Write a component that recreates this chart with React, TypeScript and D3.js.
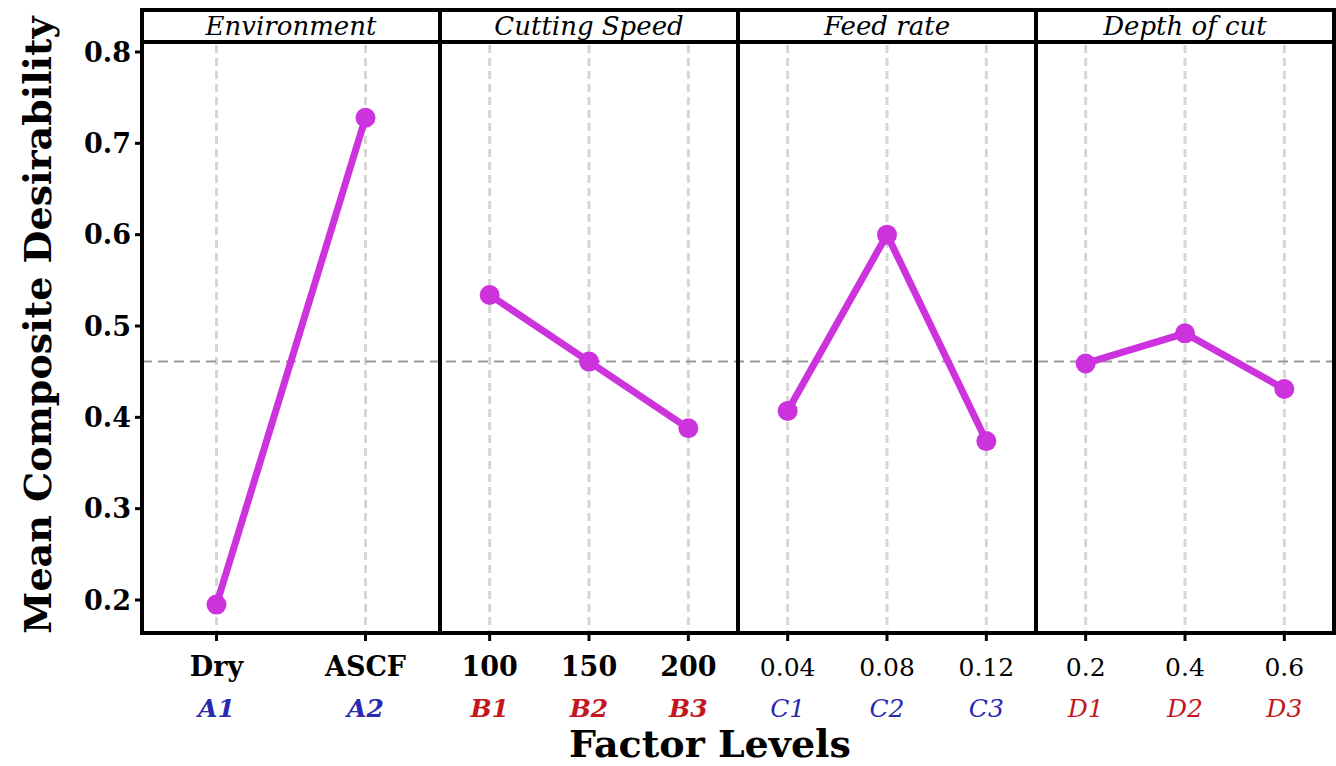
import React, { useEffect } from "react";
import * as d3 from "d3";

// chart values
const factors = ["Environment", "Cutting Speed", "Feed rate", "Depth of cut"];
const envLevels = ["Dry", "ASCF"];
const envCodes = ["A1", "A2"];
const envValues = [0.195, 0.728];
const speedLevels = ["100", "150", "200"];
const speedCodes = ["B1", "B2", "B3"];
const speedValues = [0.534, 0.461, 0.388];
const feedLevels = ["0.04", "0.08", "0.12"];
const feedCodes = ["C1", "C2", "C3"];
const feedValues = [0.407, 0.6, 0.374];
const depthLevels = ["0.2", "0.4", "0.6"];
const depthCodes = ["D1", "D2", "D3"];
const depthValues = [0.459, 0.492, 0.431];
const grandMean = 0.461;
const yTicks = [0.2, 0.3, 0.4, 0.5, 0.6, 0.7, 0.8];

const panels = [
  { name: factors[0], levels: envLevels, codes: envCodes, values: envValues, codeColor: "#2a2ab0", bold: true },
  { name: factors[1], levels: speedLevels, codes: speedCodes, values: speedValues, codeColor: "#c4161f", bold: true },
  { name: factors[2], levels: feedLevels, codes: feedCodes, values: feedValues, codeColor: "#2a2ab0", bold: false },
  { name: factors[3], levels: depthLevels, codes: depthCodes, values: depthValues, codeColor: "#c4161f", bold: false }
];

const W = 1336;
const H = 766;
const left = 142;
const right = 1334;
const stripTop = 10;
const top = 42;
const bottom = 633;
const font = "'DejaVu Serif', 'Liberation Serif', serif";
const lineColor = "#cc33dd";

export default function App() {
  useEffect(() => {
    document.body.style.margin = "0";
  }, []);

  const x = d3.scaleBand().domain(factors).range([left, right]).paddingInner(0);
  const y = d3.scaleLinear().domain([0.2, 0.8]).range([600, 52]);
  const line = d3.line<[number, number]>();

  return (
    <svg width={W} height={H} style={{ display: "block", background: "#fff" }} fontFamily={font}>
      {/* y axis title */}
      <text
        transform={`translate(51, 325) rotate(-90)`}
        textAnchor="middle"
        fontSize={38}
        fontWeight="bold"
      >
        Mean Composite Desirability
      </text>

      {/* y ticks */}
      {yTicks.map(t => (
        <g key={t}>
          <line x1={left - 7} x2={left} y1={y(t)} y2={y(t)} stroke="#000" strokeWidth={3} />
          <text x={left - 11} y={y(t)} dy="0.36em" textAnchor="end" fontSize={27} fontWeight="bold">
            {t.toFixed(1)}
          </text>
        </g>
      ))}

      {panels.map(p => {
        const x0 = x(p.name) as number;
        const px = d3.scalePoint().domain(p.levels).range([x0, x0 + x.bandwidth()]).padding(0.5);
        return (
          <g key={p.name}>
            {p.levels.map(l => (
              <line
                key={l}
                x1={px(l)}
                x2={px(l)}
                y1={top + 3}
                y2={bottom}
                stroke="#d6d6d6"
                strokeWidth={3}
                strokeDasharray="8 5"
              />
            ))}
          </g>
        );
      })}

      {/* grand mean */}
      <line
        x1={left}
        x2={right}
        y1={y(grandMean)}
        y2={y(grandMean)}
        stroke="#999"
        strokeWidth={2}
        strokeDasharray="10 6"
      />

      {panels.map(p => {
        const x0 = x(p.name) as number;
        const bw = x.bandwidth();
        const px = d3.scalePoint().domain(p.levels).range([x0, x0 + bw]).padding(0.5);
        const pts: [number, number][] = p.levels.map((l, i) => [px(l) as number, y(p.values[i])]);
        return (
          <g key={p.name + "-marks"}>
            <path d={line(pts) || ""} fill="none" stroke={lineColor} strokeWidth={7} />
            {pts.map((d, i) => (
              <circle key={i} cx={d[0]} cy={d[1]} r={10} fill={lineColor} />
            ))}
            {/* strip */}
            <rect x={x0} y={stripTop} width={bw} height={top - stripTop} fill="#fff" stroke="#000" strokeWidth={4} />
            <text
              x={x0 + bw / 2}
              y={(stripTop + top) / 2}
              dy="0.36em"
              textAnchor="middle"
              fontSize={26}
              fontStyle="italic"
            >
              {p.name}
            </text>
            {/* panel border */}
            <rect x={x0} y={top} width={bw} height={bottom - top} fill="none" stroke="#000" strokeWidth={4} />
            {p.levels.map((l, i) => (
              <g key={l}>
                <line x1={px(l)} x2={px(l)} y1={bottom} y2={bottom + 8} stroke="#000" strokeWidth={3} />
                <text
                  x={px(l)}
                  y={676}
                  textAnchor="middle"
                  fontSize={p.bold ? 27 : 25}
                  fontWeight={p.bold ? "bold" : "normal"}
                >
                  {l}
                </text>
                <text
                  x={px(l)}
                  y={717}
                  textAnchor="middle"
                  fontSize={25}
                  fontStyle="italic"
                  fontWeight={p.bold ? "bold" : "normal"}
                  fill={p.codeColor}
                >
                  {p.codes[i]}
                </text>
              </g>
            ))}
          </g>
        );
      })}

      {/* x axis title */}
      <text x={710} y={757} textAnchor="middle" fontSize={38} fontWeight="bold">
        Factor Levels
      </text>
    </svg>
  );
}
